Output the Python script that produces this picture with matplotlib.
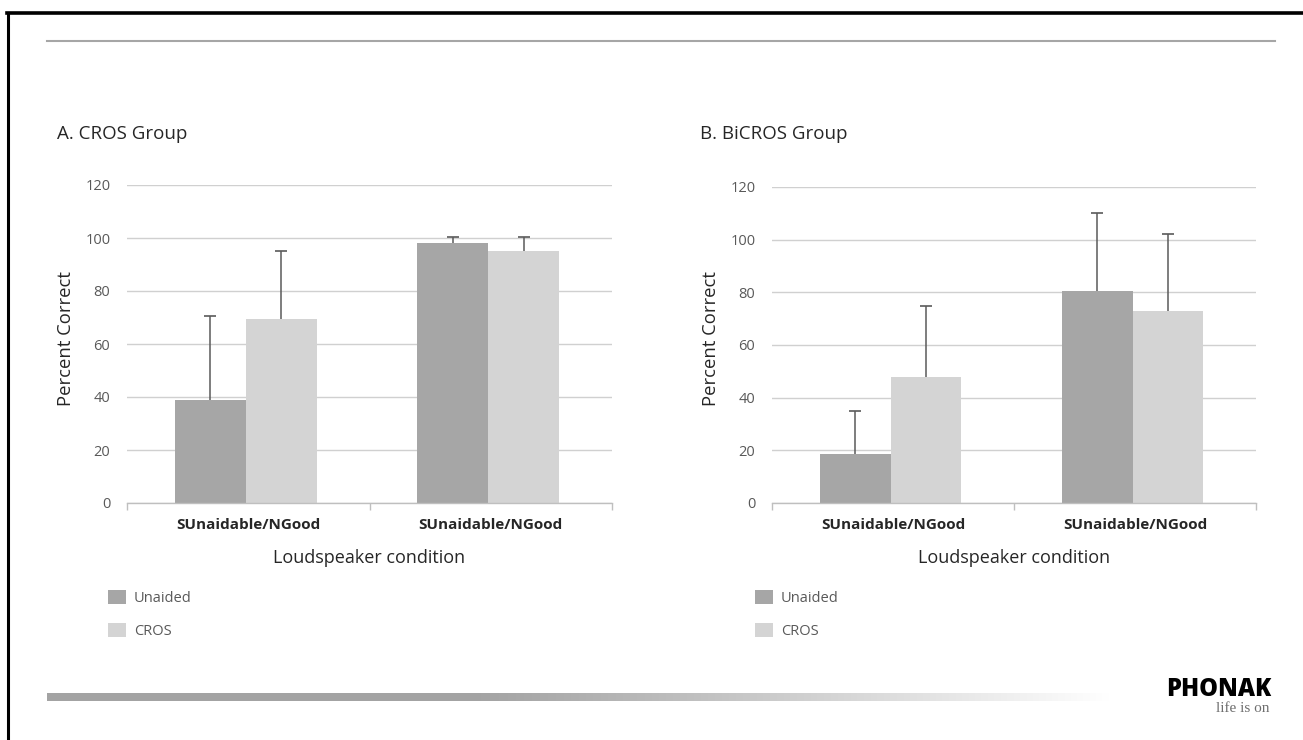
import numpy as np
import matplotlib
matplotlib.use("Agg")
import matplotlib.pyplot as plt
from matplotlib.lines import Line2D
from matplotlib.patches import Patch

plt.rcParams['font.family'] = ['Open Sans', 'DejaVu Sans']

# ---- data ----
categories = ["SUnaidable/NGood", "SUnaidable/NGood"]
series_names = ["Unaided", "CROS"]
cros_unaided = [39, 98]
cros_unaided_err = [31.5, 2.5]
cros_cros = [69.5, 95]
cros_cros_err = [25.5, 5.5]
bicros_unaided = [18.5, 80.5]
bicros_unaided_err = [16.5, 29.5]
bicros_cros = [48, 73]
bicros_cros_err = [27, 29]
yticks = [0, 20, 40, 60, 80, 100, 120]
panel_titles = ["A. CROS Group", "B. BiCROS Group"]
xlabel = "Loudspeaker condition"
ylabel = "Percent Correct"

W, H = 1303, 740
fig = plt.figure(figsize=(W / 100, H / 100), dpi=100)
fig.patch.set_facecolor("white")

def fx(px):
    return px / W

def fy(py):
    return 1 - py / H

C_UN = "#a6a6a6"
C_CR = "#d4d4d4"
GRID = "#d0d0d0"
ERR = "#5a5a5a"
TXT = "#595959"
DARK = "#262626"

# ---- slide decorations ----
fig.add_artist(Line2D([fx(7), fx(1303)], [fy(13), fy(13)], color="black", lw=2.6))
fig.add_artist(Line2D([fx(8), fx(8)], [fy(13), fy(740)], color="black", lw=2.2))
fig.add_artist(Line2D([fx(47), fx(1275)], [fy(40.5), fy(40.5)], color="#a6a6a6", lw=1.5))

gax = fig.add_axes([fx(47), fy(701), fx(1110 - 47), (701 - 693) / H])
grad = np.linspace(0, 1, 512)
grad = np.clip((grad - 0.4) / 0.6, 0, 1) ** 1.1
gimg = np.ones((1, 512, 3)) * (0.64 + 0.36 * grad)[None, :, None]
gax.imshow(gimg, aspect="auto", extent=[0, 1, 0, 1])
gax.axis("off")

fig.text(fx(1271), fy(689), "PHONAK", ha="right", va="center", fontsize=17,
         fontweight="heavy", color="black", family=["Open Sans", "DejaVu Sans"])
fig.text(fx(1270), fy(709), "life is on", ha="right", va="center", fontsize=11,
         color="#6e6e6e", family=["Liberation Serif", "DejaVu Serif"])

panels = [
    dict(left=127, right=612, top=185, title_x=57, ylab_x=66, leg_x=95,
         un=cros_unaided, une=cros_unaided_err, cr=cros_cros, cre=cros_cros_err),
    dict(left=772, right=1256, top=187, title_x=700, ylab_x=711, leg_x=742,
         un=bicros_unaided, une=bicros_unaided_err, cr=bicros_cros, cre=bicros_cros_err),
]

bottom_px = 503
bw = 0.293
for i, p in enumerate(panels):
    ax = fig.add_axes([fx(p["left"]), fy(bottom_px), fx(p["right"] - p["left"]),
                       (bottom_px - p["top"]) / H])
    x = np.arange(len(categories)) - 0.01
    for xs, vals, errs, col, lab in [(x - bw / 2, p["un"], p["une"], C_UN, series_names[0]),
                                      (x + bw / 2, p["cr"], p["cre"], C_CR, series_names[1])]:
        ax.bar(xs, vals, bw, color=col, zorder=2, label=lab)
        tops = np.array(vals) + np.array(errs)
        ax.vlines(xs, vals, tops, color=ERR, lw=1.1, zorder=3)
        ax.plot(xs, tops, linestyle="none", marker="_", markersize=8,
                markeredgewidth=1.2, color=ERR, zorder=3)
    ax.set_xlim(-0.5, 1.5)
    ax.set_ylim(0, 120)
    ax.set_yticks(yticks)
    ax.set_yticklabels([str(t) for t in yticks], fontsize=10.5, color=TXT)
    ax.yaxis.grid(True, color=GRID, lw=1.0, zorder=0)
    ax.set_axisbelow(True)
    for s in ["top", "right", "left"]:
        ax.spines[s].set_visible(False)
    ax.spines["bottom"].set_color("#bfbfbf")
    ax.spines["bottom"].set_linewidth(1.0)
    ax.tick_params(axis="y", length=0, pad=12)
    ax.set_xticks(np.arange(len(categories)))
    ax.set_xticklabels(categories, fontsize=11, fontweight="bold", color=DARK)
    ax.tick_params(axis="x", length=0, pad=11)
    ax.set_xticks([-0.5, 0.5, 1.5], minor=True)
    ax.tick_params(axis="x", which="minor", length=5, color="#bfbfbf", width=1)
    ax.set_xlabel(xlabel, fontsize=13, color=DARK, labelpad=12)
    fig.text(fx(p["ylab_x"]), fy(339), ylabel, rotation=90, ha="center", va="center",
             fontsize=13.3, color=DARK)
    fig.text(fx(p["title_x"]), fy(134), panel_titles[i], ha="left", va="center",
             fontsize=13.5, color=DARK)
    handles = [Patch(facecolor=C_UN, edgecolor="none"), Patch(facecolor=C_CR, edgecolor="none")]
    fig.legend(handles, series_names, loc="upper left",
               bbox_to_anchor=(fx(p["leg_x"]), fy(577)), frameon=False,
               fontsize=10.5, handlelength=1.2, handleheight=1.1, handletextpad=0.55,
               labelspacing=1.15, labelcolor=TXT)

fig.savefig("out.png", dpi=100, facecolor="white")
